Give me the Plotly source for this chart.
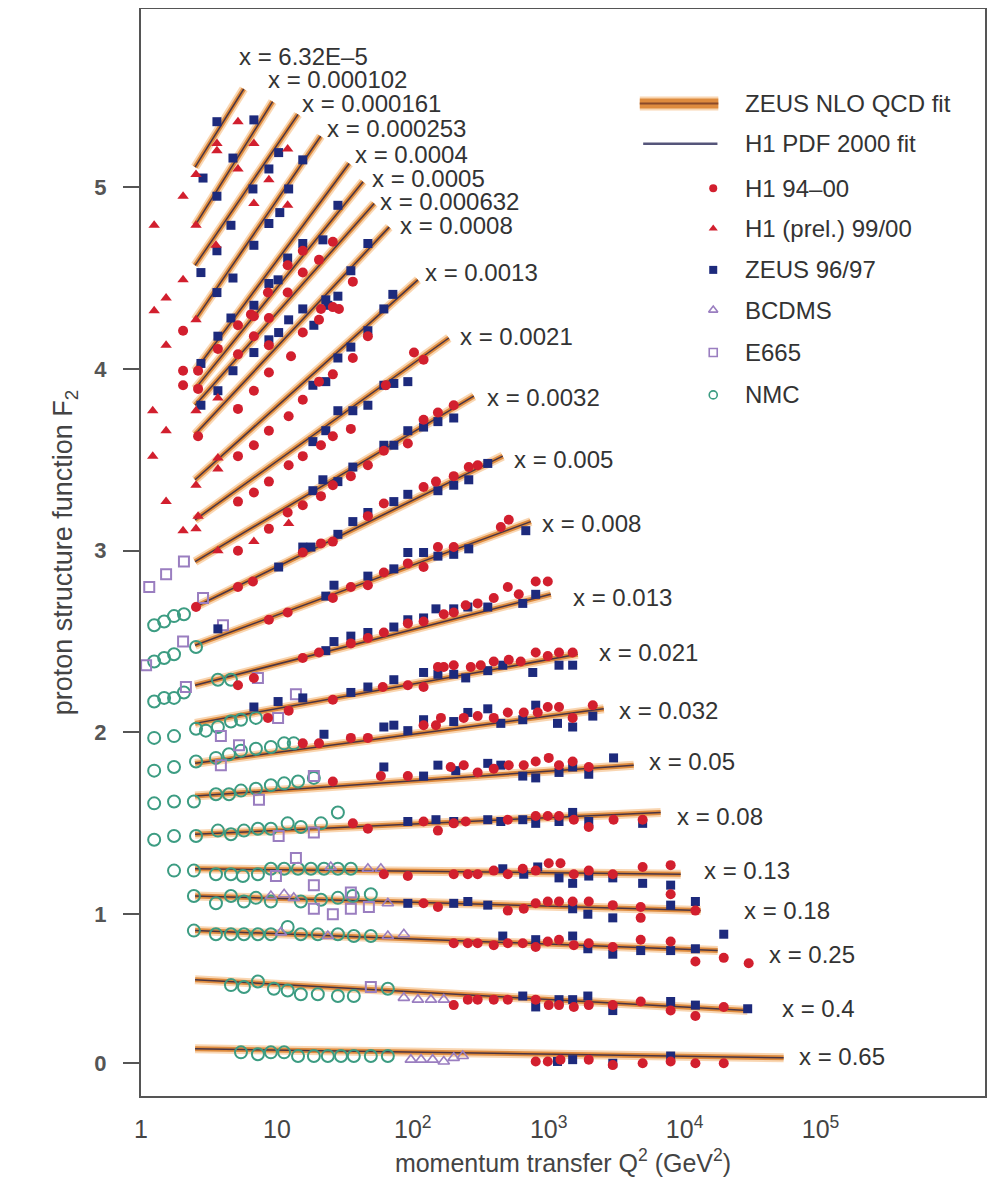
import numpy as np
import plotly.graph_objects as go

# ---------------- data ----------------
bin_labels = ["x = 6.32E\u20135", "x = 0.000102", "x = 0.000161", "x = 0.000253", "x = 0.0004",
              "x = 0.0005", "x = 0.000632", "x = 0.0008", "x = 0.0013", "x = 0.0021", "x = 0.0032",
              "x = 0.005", "x = 0.008", "x = 0.013", "x = 0.021", "x = 0.032", "x = 0.05", "x = 0.08",
              "x = 0.13", "x = 0.18", "x = 0.25", "x = 0.4", "x = 0.65"]

fit_q2_lo = [2.5, 2.5, 2.5, 2.5, 2.5, 2.5, 2.5, 2.5, 2.5, 2.5, 2.5, 2.5,
             2.5, 2.5, 2.5, 2.5, 2.5, 2.5, 2.5, 2.5, 2.5, 2.5, 2.5]
fit_f2_lo = [5.11, 4.79, 4.57, 4.27, 3.99, 3.89, 3.80, 3.64, 3.39, 3.17, 2.94, 2.69,
             2.48, 2.26, 2.05, 1.83, 1.65, 1.44, 1.25, 1.10, 0.91, 0.64, 0.26]
fit_q2_hi = [5.7, 9.3, 14.3, 21, 34, 43, 52, 67, 109, 184, 281, 459,
             738, 1035, 1633, 2540, 4220, 6660, 9350, 13100, 17500, 29000, 53500]
fit_f2_hi = [5.54, 5.47, 5.40, 5.28, 5.13, 5.03, 4.91, 4.78, 4.49, 4.17, 3.85, 3.52,
             3.16, 2.76, 2.43, 2.13, 1.82, 1.56, 1.22, 1.02, 0.80, 0.47, 0.21]

h1_points = [
    [15.5, 4.65], [20.4, 4.60], [25.8, 4.70], [12.0, 4.57], [15.5, 4.53], [8.59, 4.42], [36.2, 4.48],
    [28.6, 4.33], [12.0, 4.42], [6.44, 4.30],
    [2.04, 4.21], [2.04, 3.99], [2.04, 3.91], [2.63, 3.99], [2.63, 3.89], [3.68, 4.11], [5.17, 4.24],
    [6.77, 4.29], [8.73, 4.28], [21.1, 4.33], [5.17, 4.08], [6.77, 4.18], [8.73, 4.13], [12.7, 4.07],
    [15.5, 4.20], [20.4, 4.27], [25.8, 4.34], [2.63, 3.63], [5.17, 3.78], [6.77, 3.88], [8.73, 3.98],
    [15.5, 3.83], [20.4, 3.93], [25.8, 3.97], [36.2, 4.06], [46.7, 4.18], [35.0, 3.67], [12.2, 3.74],
    [8.73, 3.66], [6.77, 3.58], [5.17, 3.52], [15.5, 3.52], [12.2, 3.47], [8.73, 3.38], [6.77, 3.32],
    [5.17, 3.27], [25.8, 3.63], [21.1, 3.58], [63.3, 3.91], [102, 4.09], [120, 4.05], [46.7, 3.47],
    [61.2, 3.55], [91.9, 3.59], [120, 3.72], [153, 3.76], [200, 3.80], [35.0, 3.41], [25.8, 3.36],
    [21.1, 3.30], [15.5, 3.25], [12.0, 3.21], [8.73, 3.12], [5.17, 3.00], [46.7, 3.19], [61.2, 3.26],
    [120, 3.35], [148, 3.38], [200, 3.41], [258, 3.46], [15.5, 2.99], [21.1, 3.04], [25.8, 3.05],
    [2.54, 2.69], [5.17, 2.80], [6.66, 2.83], [12.0, 2.66], [8.73, 2.62], [25.8, 2.74], [35.0, 2.80],
    [46.7, 2.81], [61.2, 2.88], [91.9, 2.93], [120, 2.91], [153, 3.02], [200, 3.02], [15.5, 2.41],
    [20.4, 2.44], [35.0, 2.49], [46.7, 2.52], [61.2, 2.55], [91.9, 2.60], [120, 2.61], [200, 2.66],
    [245, 2.70], [5.17, 2.26], [6.77, 2.30], [12.2, 2.12], [8.59, 2.08], [25.8, 2.18], [60.1, 2.25],
    [91.9, 2.26], [120, 2.25], [153, 2.36], [15.5, 1.94], [20.4, 1.94], [35.0, 1.97], [46.7, 1.97],
    [120, 2.04], [148, 2.04], [25.8, 1.73], [58.2, 1.76], [91.9, 1.76],
    [36.2, 1.50], [46.7, 1.47], [120, 1.51], [153, 1.46], [200, 1.50], [61.2, 1.22], [91.9, 1.21],
    [200, 1.22], [254, 1.22], [120, 1.06], [153, 1.04], [200, 0.84], [254, 0.84], [200, 0.50], [254, 0.53],
    [508, 3.17], [444, 3.13], [300, 3.47],
    [169, 2.65], [300, 2.71], [394, 2.74], [500, 2.80], [602, 2.76], [802, 2.83], [984, 2.83],
    [169, 2.36], [200, 2.37], [267, 2.36], [316, 2.37], [394, 2.39], [508, 2.40], [622, 2.39],
    [802, 2.44], [984, 2.42], [1190, 2.44], [1500, 2.44],
    [161, 2.08], [237, 2.08], [300, 2.09], [394, 2.08], [500, 2.11], [655, 2.11], [830, 2.11],
    [984, 2.14], [1190, 2.14], [1500, 2.08], [2110, 2.15],
    [190, 1.81], [237, 1.82], [300, 1.78], [394, 1.80], [508, 1.82], [655, 1.82], [802, 1.84],
    [1000, 1.86], [1190, 1.82], [1500, 1.84], [1970, 1.81],
    [245, 1.51], [500, 1.52], [802, 1.54], [984, 1.54], [1190, 1.54], [1530, 1.52], [1970, 1.48],
    [3000, 1.52], [4910, 1.52],
    [300, 1.22], [394, 1.24], [500, 1.22], [644, 1.25], [802, 1.24], [1000, 1.28], [1220, 1.28],
    [1530, 1.22], [1970, 1.24], [2960, 1.22], [4910, 1.26], [7890, 1.27], [7890, 1.11],
    [500, 1.02], [655, 1.03], [802, 1.06], [984, 1.07], [1190, 1.07], [1500, 1.07], [1970, 1.07],
    [2960, 1.05], [4750, 1.04], [4750, 0.98], [12000, 1.02],
    [300, 0.84], [394, 0.83], [500, 0.84], [644, 0.84], [802, 0.82], [984, 0.85], [1190, 0.86],
    [1530, 0.83], [1970, 0.84], [2960, 0.82], [4750, 0.86], [7890, 0.85], [12000, 0.74],
    [19400, 0.76], [29600, 0.73],
    [300, 0.53], [394, 0.53], [500, 0.53], [802, 0.53], [1000, 0.50], [1190, 0.50], [1530, 0.49],
    [1970, 0.50], [2960, 0.50], [4750, 0.52], [7890, 0.47], [12000, 0.44], [19400, 0.49],
    [802, 0.19], [984, 0.19], [1220, 0.20], [1970, 0.20], [2960, 0.17], [4910, 0.18], [7890, 0.19],
    [12000, 0.18], [19400, 0.18],
]

h1_prel_points = [
    [5.17, 5.36], [3.62, 5.24], [3.62, 5.20], [5.17, 5.10], [2.54, 5.07], [2.04, 4.95], [2.54, 4.79],
    [1.25, 4.79], [6.77, 5.24], [12.0, 5.21], [8.73, 5.04], [6.77, 4.91], [12.0, 4.90], [3.56, 4.68],
    [2.04, 4.49], [1.53, 4.39], [1.25, 4.32], [1.53, 4.13], [1.22, 3.77], [1.53, 3.66], [1.22, 3.52],
    [1.53, 3.27], [2.04, 3.11], [2.54, 3.12], [2.54, 4.27], [3.68, 3.84], [2.54, 3.77], [3.68, 3.51],
    [3.68, 3.45], [2.54, 3.36], [2.63, 3.19], [12.2, 3.15], [6.77, 3.05], [3.68, 3.00],
]

zeus_points = [
    [3.62, 5.36], [6.77, 5.37], [4.75, 5.16], [2.86, 5.05], [3.62, 4.95], [10.3, 5.19], [8.73, 5.10],
    [6.66, 4.99], [12.2, 4.99], [15.5, 5.15], [10.5, 4.86], [8.73, 4.80], [4.59, 4.79], [6.77, 4.68],
    [3.62, 4.65], [2.76, 4.53], [4.75, 4.50], [3.62, 4.42], [28.1, 4.90], [15.5, 4.69], [21.8, 4.71],
    [12.0, 4.61], [10.2, 4.49], [8.73, 4.47], [35.0, 4.54], [46.7, 4.69], [71.3, 4.41], [61.2, 4.33],
    [28.1, 4.40], [22.9, 4.38], [15.5, 4.33], [6.77, 4.35], [4.59, 4.28],
    [3.68, 4.18], [2.76, 4.03], [4.75, 3.99], [3.68, 3.88], [2.76, 3.80], [6.77, 4.09], [8.73, 4.16],
    [10.3, 4.20], [12.2, 4.27], [18.7, 4.24], [23.7, 4.35], [46.7, 4.21], [35.0, 4.12], [28.1, 4.06],
    [22.9, 3.93], [18.4, 3.91], [28.1, 3.77], [36.2, 3.77], [46.7, 3.80], [61.2, 3.91], [72.5, 3.92],
    [91.9, 3.93], [22.9, 3.66], [18.4, 3.60], [21.8, 3.39], [28.1, 3.38], [36.2, 3.46], [61.2, 3.58],
    [72.5, 3.58], [91.9, 3.66], [120, 3.68], [153, 3.71], [200, 3.73], [18.4, 3.33], [28.1, 3.09],
    [36.2, 3.16], [46.7, 3.21], [72.5, 3.27], [91.9, 3.31], [153, 3.33], [200, 3.36], [258, 3.39],
    [91.9, 2.99], [120, 2.99], [153, 2.97], [200, 2.98], [258, 3.01],
    [10.3, 2.91], [3.68, 2.57], [15.5, 3.02], [17.8, 3.02], [26.3, 2.81], [46.7, 2.86], [22.9, 2.75],
    [72.5, 2.90], [22.9, 2.45], [26.3, 2.50], [35.0, 2.53], [46.7, 2.55], [72.5, 2.58], [91.9, 2.62],
    [120, 2.63], [148, 2.68], [200, 2.68], [6.77, 2.14], [10.2, 2.17], [15.5, 2.19], [35.0, 2.22],
    [46.7, 2.25], [72.5, 2.29], [120, 2.33], [153, 2.32], [200, 2.32], [22.2, 1.99], [61.2, 2.03],
    [72.5, 2.04], [91.9, 2.01], [120, 2.07], [61.2, 1.81], [120, 1.76], [153, 1.82], [207, 1.79],
    [91.9, 1.51], [148, 1.52], [200, 1.51], [91.9, 1.06], [200, 1.06], [254, 1.07],
    [356, 3.48], [678, 3.11],
    [254, 2.69], [356, 2.69], [644, 2.71], [802, 2.76],
    [245, 2.30], [356, 2.34], [459, 2.37], [763, 2.33], [1190, 2.37], [1500, 2.37],
    [200, 2.06], [254, 2.11], [356, 2.13], [444, 2.05], [644, 2.07], [802, 2.15], [1160, 2.05],
    [1500, 2.03], [2110, 2.09],
    [356, 1.83], [444, 1.82], [644, 1.76], [802, 1.75], [1190, 1.78], [1500, 1.81], [1970, 1.77],
    [3000, 1.86],
    [356, 1.52], [444, 1.51], [644, 1.52], [802, 1.50], [1190, 1.51], [1500, 1.56], [1970, 1.51],
    [4910, 1.50],
    [459, 1.25], [655, 1.22], [830, 1.26], [1190, 1.20], [1500, 1.17], [1970, 1.21], [2960, 1.20],
    [4910, 1.17], [7890, 1.16],
    [356, 1.05], [1500, 1.03], [1940, 1.00], [2960, 0.98], [7890, 1.05], [12000, 1.07],
    [459, 0.88], [802, 0.86], [1500, 0.88], [1940, 0.81], [2960, 0.78], [4750, 0.80], [7890, 0.80],
    [12000, 0.81], [19400, 0.89],
    [644, 0.55], [802, 0.49], [1190, 0.53], [1500, 0.53], [1940, 0.55], [2960, 0.47], [7890, 0.52],
    [12000, 0.50], [29100, 0.48],
    [1160, 0.19], [1500, 0.20], [2960, 0.18], [7890, 0.22],
]

bcdms_points = [
    [46.7, 1.25], [58.2, 1.25], [24.9, 1.26], [9.03, 1.10], [11.3, 1.11], [13.3, 1.09], [65.5, 1.06],
    [10.7, 0.90], [23.7, 0.88], [65.5, 0.88], [85.9, 0.89], [85.9, 0.54], [109, 0.53], [136, 0.53],
    [169, 0.53], [96.7, 0.20], [115, 0.20], [140, 0.20], [169, 0.19], [200, 0.21], [233, 0.22],
]

e665_points = [
    [2.07, 2.94], [1.53, 2.87], [1.15, 2.80], [2.86, 2.74], [2.04, 2.50], [4.01, 2.59], [2.14, 2.25],
    [7.25, 2.30], [13.8, 2.21], [10.2, 2.08], [3.87, 1.98], [5.26, 1.93], [3.87, 1.82], [7.38, 1.63],
    [18.7, 1.76], [1.09, 2.37], [10.3, 1.43], [18.7, 1.45], [13.8, 1.31], [9.84, 1.21], [18.7, 1.16],
    [18.7, 1.03], [25.8, 1.00], [35.0, 1.03], [35.0, 1.12], [47.5, 1.04], [49.1, 0.60],
]

nmc_points = [
    [1.25, 2.59], [1.48, 2.61], [1.75, 2.64], [2.07, 2.65],
    [1.25, 2.39], [1.48, 2.41], [1.75, 2.43], [2.54, 2.47],
    [1.25, 2.17], [1.48, 2.19], [1.75, 2.19], [2.07, 2.22], [3.68, 2.29], [4.59, 2.29],
    [1.25, 1.97], [1.75, 1.98], [2.54, 2.02], [3.0, 2.01], [3.68, 2.03], [4.59, 2.06], [5.44, 2.07],
    [7.01, 2.08],
    [1.25, 1.79], [1.75, 1.81], [2.54, 1.84], [3.56, 1.86], [4.44, 1.88], [5.44, 1.90], [7.01, 1.91],
    [9.03, 1.92], [11.3, 1.94], [13.3, 1.94],
    [1.25, 1.61], [1.75, 1.62], [2.45, 1.62], [3.56, 1.66], [4.44, 1.66], [5.44, 1.68], [7.01, 1.69],
    [9.03, 1.71], [11.3, 1.72], [14.3, 1.73], [18.7, 1.75],
    [1.25, 1.41], [1.75, 1.43], [2.54, 1.43], [3.68, 1.46], [4.59, 1.44], [5.72, 1.46], [7.25, 1.47],
    [9.03, 1.47], [12.0, 1.50], [15.0, 1.48], [21.1, 1.50], [28.1, 1.56],
    [1.75, 1.24], [2.45, 1.24], [3.56, 1.22], [4.59, 1.22], [5.62, 1.21], [7.25, 1.22], [9.03, 1.25],
    [11.3, 1.25], [14.3, 1.25], [17.8, 1.25], [22.2, 1.25], [28.1, 1.25], [35.0, 1.25],
    [2.45, 1.10], [3.56, 1.06], [4.59, 1.10], [5.72, 1.07], [7.01, 1.09], [9.03, 1.07], [15.0, 1.07],
    [21.1, 1.08], [28.1, 1.09], [36.2, 1.10], [49.1, 1.11],
    [2.45, 0.91], [3.56, 0.89], [4.59, 0.89], [5.72, 0.89], [7.25, 0.89], [9.03, 0.89], [12.0, 0.93],
    [15.0, 0.89], [20.0, 0.89], [28.1, 0.89], [36.8, 0.88], [49.1, 0.88],
    [4.59, 0.61], [5.72, 0.60], [7.25, 0.63], [9.5, 0.59], [12.0, 0.58], [15.0, 0.56], [20.0, 0.56],
    [28.1, 0.55], [36.8, 0.55], [65.5, 0.59],
    [5.44, 0.24], [7.25, 0.23], [9.03, 0.24], [11.3, 0.24], [14.3, 0.22], [18.7, 0.22], [23.7, 0.22],
    [29.6, 0.22], [36.8, 0.22], [49.1, 0.22], [65.5, 0.22],
]

# label anchor positions (left edge of each "x = ..." label)
label_q2 = [5.17, 8.44, 15.0, 22.9, 36.8, 49.1, 56.2, 78.9, 120, 218, 344, 543,
            873, 1476, 2292, 3215, 5346, 8590, 13560, 26700, 40800, 50800, 67700]
label_f2 = [5.72, 5.59, 5.46, 5.32, 5.18, 5.05, 4.92, 4.79, 4.53, 4.18, 3.84, 3.50,
            3.15, 2.74, 2.44, 2.12, 1.84, 1.54, 1.24, 1.02, 0.78, 0.48, 0.22]

legend_names = ["ZEUS NLO QCD fit", "H1 PDF 2000 fit", "H1 94\u201300", "H1 (prel.) 99/00",
                "ZEUS 96/97", "BCDMS", "E665", "NMC"]

# ---------------- styles ----------------
FONT = "Liberation Sans, Arial, Helvetica, sans-serif"
TXT = "#333333"
ORANGE_HALO = "rgba(244,180,115,0.55)"
ORANGE = "#DE8B3E"
H1LINE = "#4a3442"
RED = "#D21F2E"
NAVY = "#1D2A7C"
PURPLE = "#9A7EC0"
GREEN = "#3C9C82"

fig = go.Figure()

# fit lines, all bins in one trace each (None separated)
fx, fy = [], []
for a, b, c, d in zip(fit_q2_lo, fit_f2_lo, fit_q2_hi, fit_f2_hi):
    fx += [a, c, None]
    fy += [b, d, None]

fig.add_trace(go.Scatter(x=fx, y=fy, mode="lines", line=dict(color=ORANGE_HALO, width=9),
                         hoverinfo="skip", showlegend=False))
fig.add_trace(go.Scatter(x=fx, y=fy, mode="lines", line=dict(color=ORANGE, width=5),
                         hoverinfo="skip", showlegend=False))
fig.add_trace(go.Scatter(x=fx, y=fy, mode="lines", line=dict(color=H1LINE, width=1.5),
                         hoverinfo="skip", showlegend=False))


def pts(lst):
    return [p[0] for p in lst], [p[1] for p in lst]


def marker(symbol, color, size, open_=False, lw=1.8):
    if open_:
        return dict(symbol=symbol, size=size, color=color, line=dict(color=color, width=lw))
    return dict(symbol=symbol, size=size, color=color, line=dict(width=0))


def add_pts(lst, symbol, color, size, open_=False, lw=1.8):
    x, y = pts(lst)
    fig.add_trace(go.Scatter(x=x, y=y, mode="markers", marker=marker(symbol, color, size, open_, lw),
                             showlegend=False, cliponaxis=False))


add_pts(nmc_points, "circle-open", GREEN, 12, True, 2)
add_pts(e665_points, "square-open", PURPLE, 10, True, 2)
add_pts(bcdms_points, "triangle-up-open", PURPLE, 10, True, 1.6)
add_pts(zeus_points, "square", NAVY, 9)
add_pts(h1_prel_points, "triangle-up", RED, 10)
add_pts(h1_points, "circle", RED, 10)

# ---------------- manual legend (overlay axes spanning the plot area) ----------------
leg_y = [0.913, 0.876, 0.835, 0.798, 0.760, 0.723, 0.684, 0.645]
fig.add_trace(go.Scatter(x=[0.591, 0.684], y=[leg_y[0]] * 2, xaxis="x2", yaxis="y2", mode="lines",
                         line=dict(color=ORANGE_HALO, width=14), showlegend=False, hoverinfo="skip"))
fig.add_trace(go.Scatter(x=[0.591, 0.684], y=[leg_y[0]] * 2, xaxis="x2", yaxis="y2", mode="lines",
                         line=dict(color=ORANGE, width=10), showlegend=False, hoverinfo="skip"))
fig.add_trace(go.Scatter(x=[0.591, 0.684], y=[leg_y[0]] * 2, xaxis="x2", yaxis="y2", mode="lines",
                         line=dict(color="#8a4a2a", width=2), showlegend=False, hoverinfo="skip"))
fig.add_trace(go.Scatter(x=[0.595, 0.683], y=[leg_y[1]] * 2, xaxis="x2", yaxis="y2", mode="lines",
                         line=dict(color="#55557a", width=2.5), showlegend=False, hoverinfo="skip"))
leg_marks = [("circle", RED, False), ("triangle-up", RED, False), ("square", NAVY, False),
             ("triangle-up-open", PURPLE, True), ("square-open", PURPLE, True),
             ("circle-open", GREEN, True)]
for (sym, col, op), yy in zip(leg_marks, leg_y[2:]):
    fig.add_trace(go.Scatter(x=[0.678], y=[yy], xaxis="x2", yaxis="y2", mode="markers",
                             marker=marker(sym, col, 8, op, 1.6), showlegend=False, hoverinfo="skip"))

annotations = []
for name, yy in zip(legend_names, leg_y):
    annotations.append(dict(x=0.713, y=yy, xref="paper", yref="paper", text=name, showarrow=False,
                            xanchor="left", yanchor="middle",
                            font=dict(family=FONT, size=24, color=TXT)))
for lab, q, f in zip(bin_labels, label_q2, label_f2):
    annotations.append(dict(x=np.log10(q), y=f, xref="x", yref="y", text=lab, showarrow=False,
                            xanchor="left", yanchor="middle", borderpad=0,
                            font=dict(family=FONT, size=24, color=TXT)))

# the page body keeps a default 8 px margin, so the figure is sized to fit inside it
fig.update_layout(
    width=990, height=1173,
    margin=dict(l=133, r=13, t=1, b=85, autoexpand=False),
    paper_bgcolor="white", plot_bgcolor="white",
    showlegend=False,
    annotations=annotations,
    xaxis=dict(type="log", range=[0, 6.21], showgrid=False, zeroline=False, automargin=False,
               showline=True, mirror=True, linecolor="#555555", linewidth=2,
               tickvals=[1, 10, 100, 1000, 1e4, 1e5],
               ticktext=["1", "10", "10<sup>2</sup>", "10<sup>3</sup>", "10<sup>4</sup>", "10<sup>5</sup>"],
               ticks="", ticklabelstandoff=10,
               tickfont=dict(family=FONT, size=25, color="#444444"),
               title=dict(text="momentum transfer Q<sup>2</sup> (GeV<sup>2</sup>)", standoff=12,
                          font=dict(family=FONT, size=25, color="#444444"))),
    yaxis=dict(range=[0, 5.98], showgrid=False, zeroline=False, automargin=False,
               showline=True, mirror=True, linecolor="#555555", linewidth=2,
               tickvals=[0.18, 1, 2, 3, 4, 5], ticktext=["0", "1", "2", "3", "4", "5"],
               ticks="outside", ticklen=16, tickwidth=2, tickcolor="#555555", ticklabelstandoff=12,
               tickfont=dict(family=FONT, size=22, color="#555555", weight="bold"),
               title=dict(text="proton structure function F<sub>2</sub>", standoff=14,
                          font=dict(family=FONT, size=27, color="#444444"))),
    xaxis2=dict(overlaying="x", range=[0, 1], visible=False, anchor="y2", automargin=False),
    yaxis2=dict(overlaying="y", range=[0, 1], visible=False, anchor="x2", automargin=False),
)

fig.write_html("out.html")
